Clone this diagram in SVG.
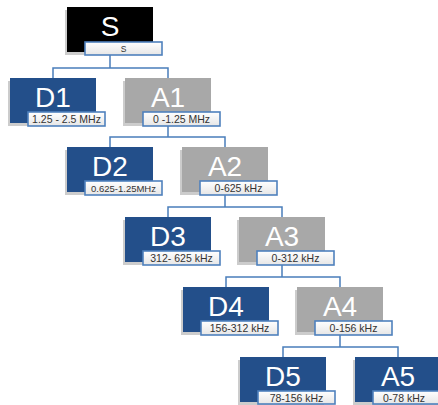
<svg xmlns="http://www.w3.org/2000/svg" width="438" height="405" viewBox="0 0 438 405">
<defs>
<linearGradient id="lg" x1="0" y1="0" x2="0" y2="1">
<stop offset="0" stop-color="#ffffff"/>
<stop offset="1" stop-color="#e6e6e6"/>
</linearGradient>
<style>
.sh{fill:#cccccc}
.d{fill:#234f8a}
.a{fill:#a8a8a8}
.s{fill:#000000}
.big{font-family:"Liberation Sans",Arial,sans-serif;font-size:28px;fill:#ffffff;text-anchor:middle}
.lb{fill:url(#lg);stroke:#4f81bd;stroke-width:1.6}
.lt{font-family:"Liberation Sans",Arial,sans-serif;font-size:10.5px;fill:#333333;text-anchor:middle}
.cn{fill:none;stroke:#4a7ebb;stroke-width:1.5}
</style>
</defs>
<rect width="438" height="405" fill="#ffffff"/>
<g id="connectors">
<path class="cn" d="M110,55 V68 M53,78 V68 H168 V78"/>
<path class="cn" d="M168,126 V137 M110,147 V137 H225 V147"/>
<path class="cn" d="M225,195 V207 M168,217 V207 H282 V217"/>
<path class="cn" d="M282,265 V277 M226,287 V277 H340 V287"/>
<path class="cn" d="M340,335 V347 M283,357 V347 H398 V357"/>
</g>
<g id="S">
<rect class="sh" x="65" y="10" width="86" height="45"/>
<rect class="s" x="67" y="7" width="86" height="45"/>
<text class="big" x="110" y="36">S</text>
<rect class="lb" x="85" y="42" width="77" height="13"/>
<text class="lt" x="123.5" y="52" style="font-size:8.5px">S</text>
</g>
<g id="D1">
<rect class="sh" x="8" y="81" width="86" height="45"/>
<rect class="d" x="10" y="78" width="86" height="45"/>
<text class="big" x="53" y="107">D1</text>
<rect class="lb" x="28" y="112" width="77" height="14"/>
<text class="lt" x="66.5" y="123">1.25 - 2.5 MHz</text>
</g>
<g id="A1">
<rect class="sh" x="123" y="81" width="86" height="45"/>
<rect class="a" x="125" y="78" width="86" height="45"/>
<text class="big" x="168" y="107">A1</text>
<rect class="lb" x="143" y="112" width="77" height="14"/>
<text class="lt" x="181.5" y="123">0 -1.25 MHz</text>
</g>
<g id="D2">
<rect class="sh" x="65" y="150" width="86" height="45"/>
<rect class="d" x="67" y="147" width="86" height="45"/>
<text class="big" x="110" y="176">D2</text>
<rect class="lb" x="85" y="181" width="77" height="14"/>
<text class="lt" x="123.5" y="191.5" style="font-size:9.5px">0.625-1.25MHz</text>
</g>
<g id="A2">
<rect class="sh" x="180" y="150" width="86" height="45"/>
<rect class="a" x="182" y="147" width="86" height="45"/>
<text class="big" x="225" y="176">A2</text>
<rect class="lb" x="200" y="181" width="77" height="14"/>
<text class="lt" x="238.5" y="192">0-625 kHz</text>
</g>
<g id="D3">
<rect class="sh" x="123" y="220" width="86" height="45"/>
<rect class="d" x="125" y="217" width="86" height="45"/>
<text class="big" x="168" y="246">D3</text>
<rect class="lb" x="143" y="251" width="77" height="14"/>
<text class="lt" x="181.5" y="262">312- 625 kHz</text>
</g>
<g id="A3">
<rect class="sh" x="237" y="220" width="86" height="45"/>
<rect class="a" x="239" y="217" width="86" height="45"/>
<text class="big" x="282" y="246">A3</text>
<rect class="lb" x="257" y="251" width="77" height="14"/>
<text class="lt" x="295.5" y="262">0-312 kHz</text>
</g>
<g id="D4">
<rect class="sh" x="181" y="290" width="86" height="45"/>
<rect class="d" x="183" y="287" width="86" height="45"/>
<text class="big" x="226" y="316">D4</text>
<rect class="lb" x="201" y="321" width="77" height="14"/>
<text class="lt" x="239.5" y="332">156-312 kHz</text>
</g>
<g id="A4">
<rect class="sh" x="295" y="290" width="86" height="45"/>
<rect class="a" x="297" y="287" width="86" height="45"/>
<text class="big" x="340" y="316">A4</text>
<rect class="lb" x="315" y="321" width="77" height="14"/>
<text class="lt" x="353.5" y="332">0-156 kHz</text>
</g>
<g id="D5">
<rect class="sh" x="238" y="360" width="86" height="45"/>
<rect class="d" x="240" y="357" width="86" height="45"/>
<text class="big" x="283" y="386">D5</text>
<rect class="lb" x="258" y="391" width="77" height="13"/>
<text class="lt" x="296.5" y="401.5">78-156 kHz</text>
</g>
<g id="A5">
<rect class="sh" x="353" y="360" width="86" height="45"/>
<rect class="d" x="355" y="357" width="86" height="45"/>
<text class="big" x="398" y="386">A5</text>
<rect class="lb" x="373" y="391" width="77" height="13"/>
<text class="lt" x="404" y="401.5">0-78 kHz</text>
</g>
</svg>
